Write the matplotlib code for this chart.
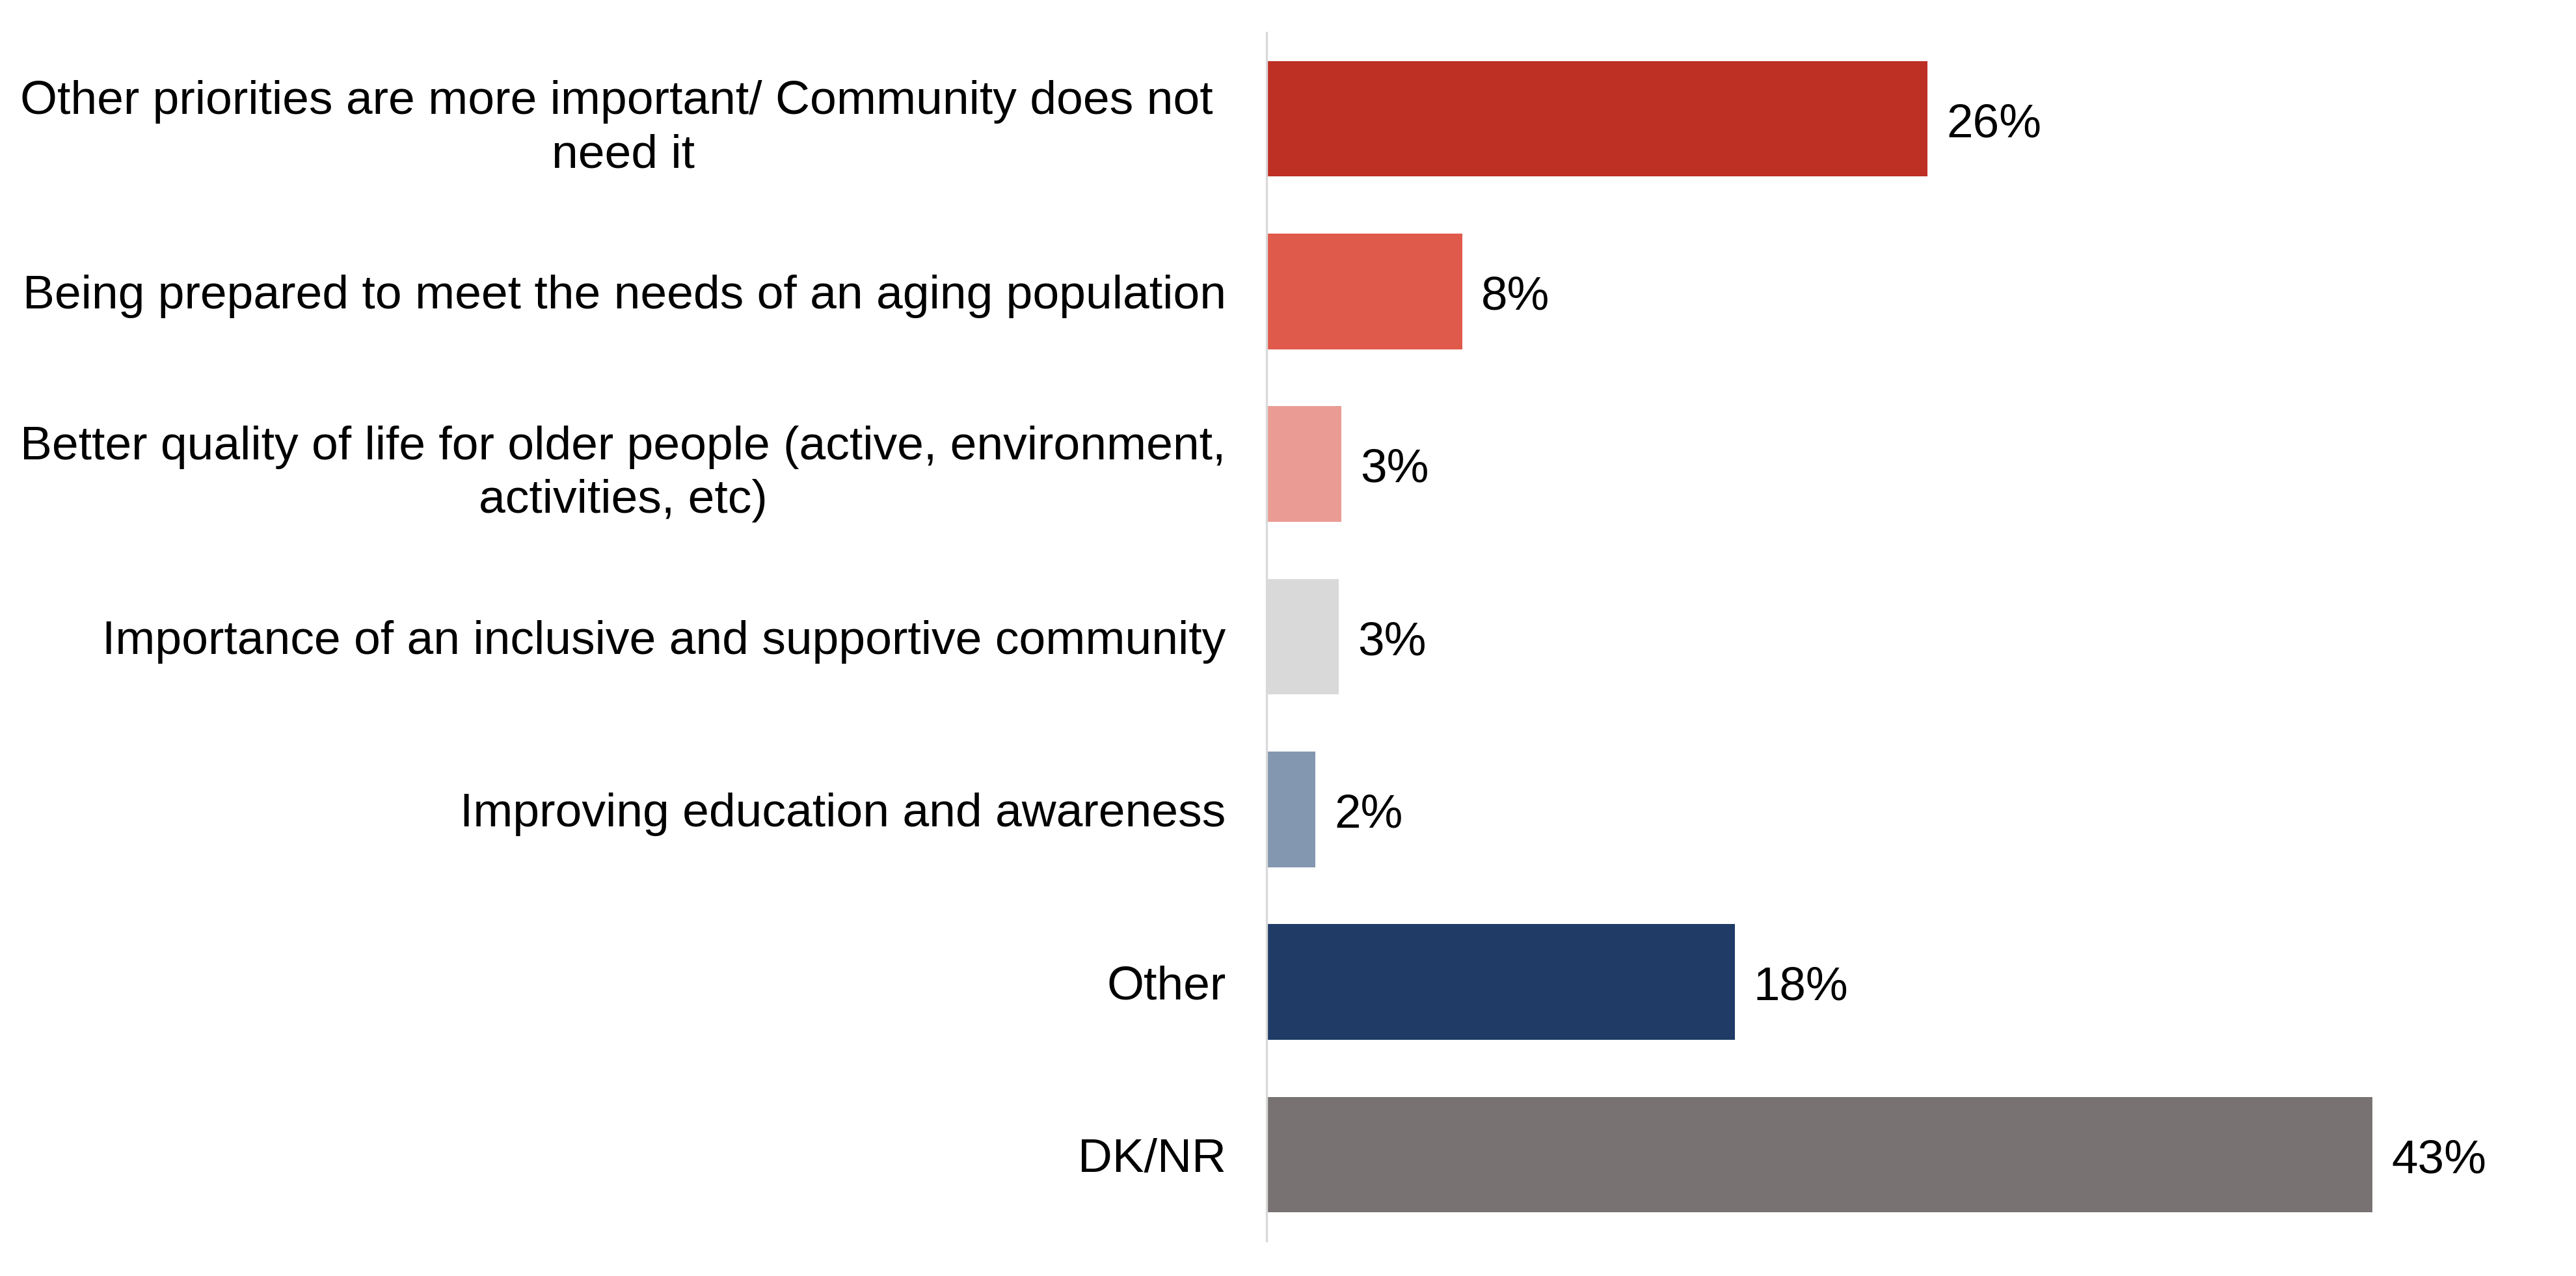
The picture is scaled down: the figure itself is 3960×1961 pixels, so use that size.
import matplotlib.pyplot as plt

plt.rcParams['font.family'] = ['Liberation Sans', 'DejaVu Sans']

categories = [
    "Other priorities are more important/ Community does not \nneed it",
    "Being prepared to meet the needs of an aging population",
    "Better quality of life for older people (active, environment,\nactivities, etc)",
    "Importance of an inclusive and supportive community",
    "Improving education and awareness",
    "Other",
    "DK/NR",
]
# bar lengths (labels are the rounded values)
values = [25.7, 7.6, 2.9, 2.8, 1.9, 18.2, 43.0]
value_labels = ["26%", "8%", "3%", "3%", "2%", "18%", "43%"]
colors = ["#BE3024", "#E05A4B", "#EA9C94", "#D9D9D9", "#8497B0", "#1F3B66", "#787272"]

fig = plt.figure(figsize=(13.2, 6.537), dpi=300)
ax = fig.add_axes([0.4917, 0.0275, 0.5083, 0.947])

y = list(range(len(categories)))
ax.barh(y, values, height=0.67, color=colors)

for yi, v, lab in zip(y, values, value_labels):
    ax.annotate(lab, (v, yi), xytext=(7, -2.2), textcoords="offset points",
                va="center", ha="left", fontsize=17.5)

ax.set_ylim(len(categories) - 0.5, -0.5)
ax.set_xlim(0, 2013 / 1700 * 43)
ax.set_yticks(y)
ax.set_yticklabels(categories, fontsize=17.6, multialignment="center",
                   linespacing=1.3)
ax.tick_params(axis="y", length=0, pad=15)
ax.set_xticks([])

for s in ["top", "right", "bottom"]:
    ax.spines[s].set_visible(False)
ax.spines["left"].set_color("#D9D9D9")
ax.spines["left"].set_linewidth(0.8)

fig.savefig("out.png", dpi=300)
